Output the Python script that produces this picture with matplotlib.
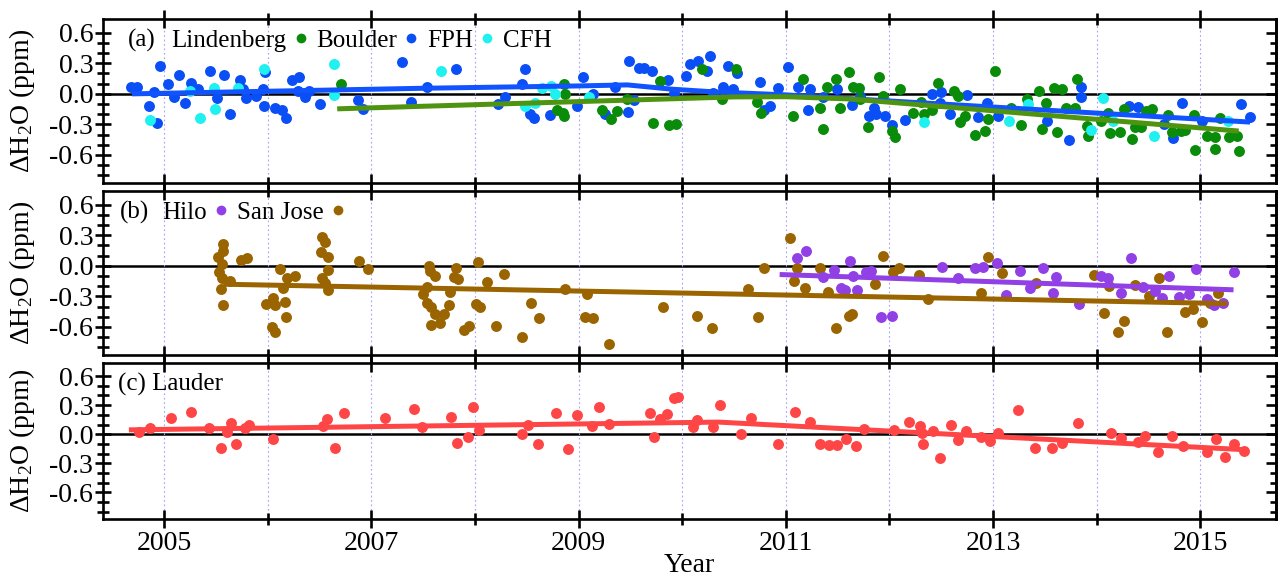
import matplotlib
matplotlib.use('Agg')
import matplotlib.pyplot as plt
from matplotlib.ticker import FixedLocator, FuncFormatter
from matplotlib.lines import Line2D

plt.rcParams['font.family'] = ['Liberation Serif', 'DejaVu Serif']
plt.rcParams['mathtext.fontset'] = 'custom'
plt.rcParams['mathtext.rm'] = 'Liberation Serif'
plt.rcParams['mathtext.it'] = 'Liberation Serif:italic'

# ---------------- data ----------------
major_years = [2005, 2007, 2009, 2011, 2013, 2015]
minor_years = [2006, 2008, 2010, 2012, 2014]
y_major = [-0.6, -0.3, 0.0, 0.3, 0.6]
y_minor = [-0.8, -0.7, -0.5, -0.4, -0.2, -0.1, 0.1, 0.2, 0.4, 0.5]

# panel (a)
boulder_x = [2004.68, 2004.74, 2004.96, 2004.85, 2004.93, 2004.90, 2005.04, 2005.10, 2005.14, 2005.20,
             2005.26, 2005.33, 2005.44, 2005.51, 2005.58, 2005.64, 2005.73, 2005.76, 2005.79, 2005.89,
             2005.95, 2005.97, 2005.96, 2006.07, 2006.14, 2006.18, 2006.23, 2006.30, 2006.29, 2006.36,
             2006.40, 2006.50, 2006.87, 2006.92, 2007.30, 2007.38, 2007.54,
             2007.82, 2008.22, 2008.29, 2008.45, 2008.48, 2008.53, 2008.57, 2008.72, 2008.98, 2009.04,
             2009.14, 2009.25, 2009.35, 2009.48, 2009.53, 2009.49, 2009.58, 2009.63, 2009.71, 2009.86,
             2009.92, 2010.04, 2010.07, 2010.15, 2010.24, 2010.27, 2010.30, 2010.39, 2010.44, 2010.53,
             2010.49, 2010.75, 2010.79, 2010.85, 2010.92, 2011.02, 2011.12, 2011.21, 2011.23, 2011.36,
             2011.49,
             2011.64, 2011.72, 2011.80, 2011.85, 2011.87, 2011.96, 2012.02, 2012.15, 2012.41, 2012.50,
             2012.49, 2012.58, 2012.75, 2012.85, 2012.94, 2013.05, 2013.52, 2013.73, 2013.85, 2013.85,
             2014.31, 2014.40, 2014.65, 2014.74, 2014.82, 2015.02, 2015.39, 2015.48]
boulder_y = [0.07, 0.07, 0.27, -0.12, -0.29, 0.02, 0.10, -0.03, 0.19, -0.09,
             0.11, 0.05, 0.22, -0.04, 0.19, -0.20, 0.14, 0.05, -0.04, -0.02,
             0.05, 0.21, -0.12, -0.14, -0.16, -0.24, 0.14, 0.17, 0.03, -0.03,
             0.03, -0.10, -0.06, -0.15, 0.31, -0.08, 0.07,
             0.245, -0.10, -0.03, 0.10, 0.24, -0.20, -0.24, -0.21, -0.12, 0.17,
             0.00, -0.20, 0.065, -0.18, -0.06, 0.32, 0.25, 0.25, 0.22, 0.14,
             0.01, 0.18, 0.29, 0.32, 0.22, 0.37, 0.01, 0.065, 0.27, 0.20,
             0.05, 0.12, -0.16, -0.12, 0.06, 0.26, 0.065, -0.16, 0.05, -0.03,
             0.05,
             -0.11, -0.02, -0.22, -0.14, -0.20, -0.22, -0.31, -0.26, 0.00, 0.02,
             -0.09, -0.20, -0.01, -0.23, -0.09, -0.22, -0.27, -0.45, 0.07, -0.03,
             -0.12, -0.13, -0.30, -0.43, -0.09, -0.27, -0.10, -0.23]

lindenberg_x = [2006.71,
                2008.86, 2008.87, 2008.79, 2008.85, 2008.86, 2009.23, 2009.31, 2009.37, 2009.47, 2009.72,
                2009.79, 2009.87, 2009.94, 2010.19, 2010.38, 2010.52, 2010.72, 2010.76, 2011.07, 2011.17,
                2011.33, 2011.36, 2011.40, 2011.48, 2011.52, 2011.61,
                2011.65, 2011.71, 2011.72, 2011.79, 2011.90, 2011.94, 2012.02, 2012.05, 2012.10, 2012.23,
                2012.30, 2012.33, 2012.41, 2012.47, 2012.62, 2012.66, 2012.68, 2012.73, 2012.83, 2012.92,
                2012.95, 2013.02, 2013.17, 2013.27, 2013.33, 2013.44, 2013.47, 2013.51, 2013.59, 2013.66,
                2013.62, 2013.70, 2013.79, 2013.81, 2013.91, 2013.92, 2014.11, 2014.04, 2014.13, 2014.22,
                2014.26, 2014.34, 2014.37, 2014.43, 2014.48, 2014.53, 2014.69, 2014.73, 2014.81, 2014.85,
                2014.94, 2014.95, 2015.06, 2015.14, 2015.14, 2015.19, 2015.28, 2015.35, 2015.37]
lindenberg_y = [0.10,
                0.10, 0.00, -0.16, -0.19, -0.22, -0.16, -0.25, -0.17, -0.05, -0.29,
                0.13, -0.31, -0.30, 0.24, -0.05, 0.245, -0.075, -0.19, -0.215, 0.15,
                -0.14, -0.345, 0.065, 0.15, -0.14, 0.21,
                0.07, 0.06, -0.055, -0.33, 0.17, -0.02, -0.365, -0.42, 0.05, -0.19,
                -0.08, -0.20, -0.16, 0.11, 0.03, -0.02, -0.28, -0.22, -0.40, -0.365,
                -0.245, 0.22, -0.14, -0.31, -0.05, 0.03, -0.34, -0.09, 0.06, 0.05,
                -0.375, -0.14, -0.14, 0.15, -0.32, -0.41, -0.19, -0.27, -0.38, -0.375,
                -0.15, -0.44, -0.33, -0.33, -0.17, -0.15, -0.21, -0.375, -0.365, -0.35,
                -0.21, -0.55, -0.41, -0.54, -0.42, -0.235, -0.42, -0.41, -0.56]

cfh_x = [2004.86, 2005.25, 2005.35, 2005.48, 2005.49, 2005.71, 2005.96, 2006.64, 2006.64,
         2007.67, 2008.48, 2008.58, 2008.65, 2008.73, 2008.77, 2009.10,
         2012.33, 2013.15, 2013.34, 2013.94, 2014.06, 2014.16, 2014.55, 2015.27]
cfh_y = [-0.26, 0.03, -0.24, 0.055, -0.15, 0.055, 0.245, 0.29, -0.01,
         0.22, -0.12, -0.09, 0.055, 0.08, 0.00, -0.03,
         -0.28, -0.27, -0.095, -0.35, -0.04, -0.27, -0.41, -0.27]

boulder_fit_x = [2004.69, 2007.5, 2009.0, 2009.47, 2009.9, 2010.3, 2011.0, 2015.48]
boulder_fit_y = [0.0, 0.055, 0.078, 0.088, 0.046, 0.02, -0.01, -0.277]
lindenberg_fit_x = [2006.67, 2010.5, 2011.0, 2011.62, 2015.37]
lindenberg_fit_y = [-0.147, -0.03, -0.028, -0.05, -0.365]

# panel (b)
sanjose_x = [2005.57, 2005.57, 2005.52, 2005.56, 2005.53, 2005.56, 2005.64, 2005.55, 2005.57, 2005.74,
             2005.80, 2005.98, 2006.05, 2006.07, 2006.04, 2006.07, 2006.12, 2006.15, 2006.17, 2006.18,
             2006.19, 2006.26, 2006.52, 2006.55, 2006.51, 2006.58, 2006.58, 2006.52, 2006.55, 2006.58,
             2006.88, 2006.97,
             2007.56, 2007.57, 2007.61, 2007.54, 2007.50, 2007.54, 2007.58, 2007.61, 2007.70, 2007.75,
             2007.58, 2007.66, 2007.76, 2007.82, 2007.80, 2007.84, 2007.89, 2007.94, 2008.01, 2008.05,
             2008.03, 2008.12, 2008.20, 2008.28, 2008.45, 2008.54, 2008.62, 2008.87, 2009.08, 2009.06,
             2009.14, 2009.29, 2009.81, 2010.14, 2010.29, 2010.63, 2010.73, 2010.79, 2011.04, 2011.08,
             2011.11, 2011.18, 2011.33, 2011.41, 2011.48, 2011.61,
             2011.64, 2011.86, 2011.94, 2012.03, 2012.09, 2012.28, 2012.37, 2012.88, 2012.95, 2013.09,
             2013.41, 2013.97, 2014.07, 2014.12, 2014.26, 2014.21, 2014.37, 2014.50, 2014.60, 2014.68,
             2014.85, 2014.93, 2015.02, 2015.09, 2015.17]
sanjose_y = [0.21, 0.15, 0.09, 0.02, -0.06, -0.12, -0.15, -0.23, -0.385, 0.055,
             0.08, -0.37, -0.32, -0.385, -0.60, -0.645, -0.03, -0.22, -0.35, -0.50,
             -0.12, -0.10, 0.28, 0.235, 0.14, 0.09, -0.04, -0.12, -0.17, -0.24,
             0.05, -0.03,
             0.00, -0.055, -0.10, -0.21, -0.28, -0.365, -0.40, -0.47, -0.47, -0.38,
             -0.58, -0.56, -0.26, -0.02, -0.11, -0.13, -0.63, -0.59, -0.375, -0.40,
             0.04, -0.16, -0.59, -0.08, -0.70, -0.365, -0.51, -0.23, -0.28, -0.50,
             -0.51, -0.77, -0.40, -0.49, -0.61, -0.23, -0.505, -0.02, 0.27, -0.15,
             -0.02, -0.22, -0.02, -0.26, -0.61, -0.49,
             -0.47, -0.18, 0.10, -0.06, -0.02, -0.09, -0.33, -0.27, 0.09, -0.07,
             -0.17, -0.09, -0.46, -0.20, -0.54, -0.65, -0.19, -0.30, -0.12, -0.645,
             -0.45, -0.42, -0.55, -0.365, -0.27]

hilo_x = [2011.11, 2011.19, 2011.36, 2011.46, 2011.53, 2011.57, 2011.62,
          2011.65, 2011.69, 2011.77, 2011.82, 2011.92, 2012.02, 2012.51, 2012.66, 2012.83, 2012.90,
          2013.04, 2013.12, 2013.26, 2013.36, 2013.48, 2013.61, 2013.58, 2013.83, 2014.04, 2014.11,
          2014.23, 2014.33, 2014.45, 2014.56, 2014.63, 2014.70, 2014.79, 2014.89, 2014.96, 2015.06,
          2015.13, 2015.22, 2015.32]
hilo_y = [0.075, 0.147, -0.11, -0.04, -0.22, -0.235, 0.05,
          -0.10, -0.235, -0.065, -0.05, -0.50, -0.49, -0.01, -0.12, -0.02, -0.01,
          0.03, -0.29, -0.05, -0.22, -0.02, -0.11, -0.27, -0.37, -0.10, -0.12,
          -0.27, 0.075, -0.21, -0.25, -0.32, -0.10, -0.31, -0.28, -0.03, -0.33,
          -0.38, -0.36, -0.065]

sanjose_fit_x = [2005.57, 2015.26]
sanjose_fit_y = [-0.18, -0.37]
hilo_fit_x = [2010.94, 2015.32]
hilo_fit_y = [-0.085, -0.235]

# panel (c)
lauder_x = [2004.76, 2004.86, 2005.07, 2005.26, 2005.43, 2005.55, 2005.61, 2005.65, 2005.69, 2005.78,
            2005.82, 2006.05, 2006.53, 2006.57, 2006.65, 2006.74, 2007.13, 2007.41, 2007.49, 2007.77,
            2007.83, 2007.93, 2007.98, 2008.04, 2008.45, 2008.51, 2008.61, 2008.78, 2008.90, 2008.98,
            2009.13, 2009.20, 2009.29,
            2009.69, 2009.73, 2009.79, 2009.85, 2009.92, 2009.96, 2010.10, 2010.14, 2010.30, 2010.36,
            2010.57, 2010.66, 2010.92, 2011.09, 2011.23, 2011.33, 2011.42, 2011.49, 2011.58, 2011.68,
            2011.75, 2012.04, 2012.19, 2012.29, 2012.31, 2012.32, 2012.42, 2012.49, 2012.59, 2012.66,
            2012.74, 2012.88, 2012.97, 2013.05, 2013.24, 2013.40, 2013.57, 2013.66, 2013.82, 2014.14,
            2014.23, 2014.40, 2014.47, 2014.59, 2014.73, 2014.83, 2015.06, 2015.15, 2015.24, 2015.32,
            2015.42]
lauder_y = [0.02, 0.065, 0.17, 0.225, 0.065, -0.145, 0.02, 0.115, -0.10, 0.065,
            0.10, -0.045, 0.085, 0.155, -0.14, 0.22, 0.165, 0.26, 0.075, 0.18,
            -0.09, -0.025, 0.28, 0.047, 0.004, 0.10, -0.10, 0.215, -0.15, 0.20,
            0.085, 0.285, 0.11,
            0.215, -0.025, 0.16, 0.205, 0.37, 0.38, 0.075, 0.145, 0.075, 0.305,
            0.00, 0.17, -0.105, 0.23, 0.125, -0.105, -0.115, -0.115, -0.045, -0.12,
            0.055, 0.045, 0.13, 0.08, 0.01, -0.105, 0.03, -0.245, 0.095, -0.055,
            0.03, -0.03, -0.07, 0.01, 0.25, -0.145, -0.145, -0.095, 0.12, 0.01,
            -0.035, -0.08, -0.02, -0.185, -0.015, -0.12, -0.185, -0.045, -0.23, -0.105,
            -0.175]
lauder_fit_x = [2004.66, 2010.35, 2015.43]
lauder_fit_y = [0.045, 0.125, -0.16]

# colours
C_BLUE = '#0a4ef5'
C_BLUE_LINE = '#1053ff'
C_GREEN = '#0a8c0a'
C_GREEN_LINE = '#4f9410'
C_CYAN = '#1ff0f0'
C_BROWN = '#9a6500'
C_PURPLE = '#9040e4'
C_RED = '#ff4646'

# ---------------- figure ----------------
W, H = 1284, 580
fig = plt.figure(figsize=(W / 100, H / 100), dpi=100)
left_px, right_px = 103, 1276
panels_px = [(19, 183), (191, 355), (363, 519)]
axes = []
for top, bot in panels_px:
    ax = fig.add_axes([left_px / W, 1 - bot / H, (right_px - left_px) / W, (bot - top) / H])
    axes.append(ax)

MS = 62
FS_TICK = 20
FS_LEG = 18
lw_spine = 1.9


def style(ax, xlabels):
    ax.set_xlim(2004.41, 2015.73)
    ax.set_ylim(-0.875, 0.735)
    ax.xaxis.set_major_locator(FixedLocator(major_years))
    ax.xaxis.set_minor_locator(FixedLocator(minor_years))
    ax.yaxis.set_major_locator(FixedLocator(y_major))
    ax.yaxis.set_minor_locator(FixedLocator(y_minor))
    ax.yaxis.set_major_formatter(FuncFormatter(lambda v, p: f'{v:.1f}'.replace('-0.0', '0.0')))
    ax.xaxis.set_major_formatter(FuncFormatter(lambda v, p: f'{int(round(v))}'))
    for s in ax.spines.values():
        s.set_linewidth(lw_spine)
    ax.tick_params(axis='x', which='major', direction='inout', length=13.5, width=lw_spine,
                   top=True, bottom=True, labelbottom=xlabels, labelsize=FS_TICK, pad=2)
    ax.tick_params(axis='x', which='minor', direction='inout', length=8, width=lw_spine,
                   top=True, bottom=True)
    ax.tick_params(axis='y', which='major', direction='inout', length=12, width=lw_spine,
                   left=True, right=False, labelsize=FS_TICK, pad=1)
    ax.tick_params(axis='y', which='minor', direction='inout', length=8, width=lw_spine,
                   left=True, right=False)
    sec = ax.secondary_yaxis('right')
    sec.yaxis.set_major_locator(FixedLocator(y_major))
    sec.yaxis.set_minor_locator(FixedLocator(y_minor))
    sec.tick_params(which='major', direction='in', length=7, width=lw_spine, labelright=False)
    sec.tick_params(which='minor', direction='in', length=4.5, width=lw_spine)
    sec.spines['right'].set_linewidth(lw_spine)
    ax.grid(axis='x', which='both', color='#a0a0ff', linestyle=(0, (1.5, 2.5)), linewidth=0.8)
    ax.axhline(0, color='black', lw=1.8, zorder=1.5)
    ax.set_ylabel('ΔH$_\\mathrm{2}$O (ppm)', fontsize=20)
    ax.yaxis.set_label_coords(-0.056, 0.5)


# panel (a)
ax = axes[0]
style(ax, False)
ax.scatter(boulder_x, boulder_y, s=MS, color=C_BLUE, lw=0, zorder=3)
ax.scatter(lindenberg_x, lindenberg_y, s=MS, color=C_GREEN, lw=0, zorder=3)
ax.scatter(cfh_x, cfh_y, s=MS, color=C_CYAN, lw=0, zorder=3)
ax.plot(boulder_fit_x, boulder_fit_y, color=C_BLUE_LINE, lw=3.6, zorder=4, solid_capstyle='butt')
ax.plot(lindenberg_fit_x, lindenberg_fit_y, color=C_GREEN_LINE, lw=3.6, zorder=4, solid_capstyle='butt')
ax.text(0.021, 0.87, '(a)', transform=ax.transAxes, va='center', ha='left', fontsize=FS_LEG)
h = [Line2D([], [], ls='none', marker='o', ms=7, color=C_GREEN, mew=0, label='Lindenberg'),
     Line2D([], [], ls='none', marker='o', ms=7, color=C_BLUE, mew=0, label='Boulder'),
     Line2D([], [], ls='none', marker='o', ms=7, color=C_CYAN, mew=0, label='FPH'),
     Line2D([], [], ls='none', marker=None, label='CFH')]
ax.legend(handles=h, loc='center left', bbox_to_anchor=(0.058, 0.87), ncol=4, frameon=False,
          markerfirst=False, fontsize=FS_LEG, handlelength=0.55, handletextpad=0.3,
          columnspacing=0.35, borderpad=0, borderaxespad=0)

# panel (b)
ax = axes[1]
style(ax, False)
ax.scatter(sanjose_x, sanjose_y, s=MS, color=C_BROWN, lw=0, zorder=3)
ax.scatter(hilo_x, hilo_y, s=MS, color=C_PURPLE, lw=0, zorder=3)
ax.plot(sanjose_fit_x, sanjose_fit_y, color=C_BROWN, lw=3.6, zorder=4, solid_capstyle='butt')
ax.plot(hilo_fit_x, hilo_fit_y, color=C_PURPLE, lw=3.6, zorder=4, solid_capstyle='butt')
ax.text(0.0145, 0.87, '(b)', transform=ax.transAxes, va='center', ha='left', fontsize=FS_LEG)
h = [Line2D([], [], ls='none', marker='o', ms=7, color=C_PURPLE, mew=0, label='Hilo'),
     Line2D([], [], ls='none', marker='o', ms=7, color=C_BROWN, mew=0, label='San Jose')]
ax.legend(handles=h, loc='center left', bbox_to_anchor=(0.0503, 0.87), ncol=2, frameon=False,
          markerfirst=False, fontsize=FS_LEG, handlelength=0.55, handletextpad=0.3,
          columnspacing=0.35, borderpad=0, borderaxespad=0)

# panel (c)
ax = axes[2]
style(ax, True)
ax.scatter(lauder_x, lauder_y, s=MS, color=C_RED, lw=0, zorder=3)
ax.plot(lauder_fit_x, lauder_fit_y, color=C_RED, lw=3.6, zorder=4, solid_capstyle='butt')
ax.text(0.0128, 0.86, '(c) Lauder', transform=ax.transAxes, va='center', ha='left', fontsize=FS_LEG)
ax.set_xlabel('Year', fontsize=20, labelpad=-2)

fig.savefig('out.png', dpi=100)
